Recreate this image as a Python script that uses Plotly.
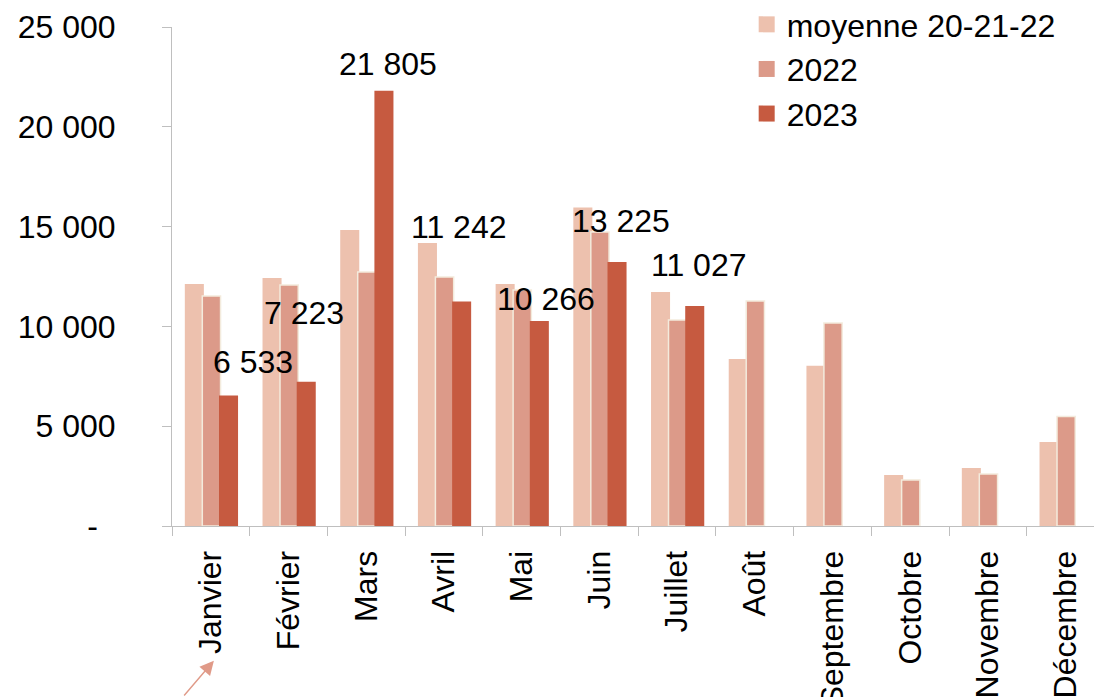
import plotly.graph_objects as go

months = ["Janvier", "Février", "Mars", "Avril", "Mai", "Juin", "Juillet",
          "Août", "Septembre", "Octobre", "Novembre", "Décembre"]
moyenne = [12120, 12430, 14830, 14180, 12120, 15960, 11720, 8370, 8030, 2560, 2910, 4210]
v2022 = [11520, 12070, 12720, 12470, 11820, 14730, 10320, 11270, 10170, 2310, 2610, 5480]
v2023 = [6533, 7223, 21805, 11242, 10266, 13225, 11027]
label_2023 = ["6 533", "7 223", "21 805", "11 242", "10 266", "13 225", "11 027"]

y_ticks = [0, 5000, 10000, 15000, 20000, 25000]
y_ticktext = ["-\u00a0\u00a0", "5 000", "10 000", "15 000", "20 000", "25 000"]

# label pixel offsets relative to top-center of each 2023 bar (layout tweak)
lab_dx = [25, -2, 4, -2, 7, 4, 4]
lab_dy = [34, 69, 27, 75, 22, 41, 41]

c_moy = "#EDC1AE"
c_22 = "#DC9A89"
c_23 = "#C65A40"
FONT = "Liberation Sans, Arial, sans-serif"

fig = go.Figure()
fig.add_trace(go.Bar(x=months, y=moyenne, name="moyenne 20-21-22", marker_color=c_moy,
                     marker_line_width=0, offset=-0.335, width=0.245, showlegend=False))
fig.add_trace(go.Bar(x=months, y=v2022, name="2022", marker_color=c_22,
                     marker_line=dict(color="#F3EBDD", width=1.5),
                     offset=-0.11, width=0.235, showlegend=False))
fig.add_trace(go.Bar(x=months[:len(v2023)], y=v2023, name="2023", marker_color=c_23,
                     marker_line_width=0, offset=0.105, width=0.245, showlegend=False))

for nm, col in [("moyenne 20-21-22", c_moy), ("2022", c_22), ("2023", c_23)]:
    fig.add_trace(go.Scatter(x=[None], y=[None], mode="markers", name=nm,
                             marker=dict(symbol="square", size=18, color=col)))

cat_px = 922 / 11.866
for i, (v, t) in enumerate(zip(v2023, label_2023)):
    fig.add_annotation(x=months[i], y=v, text=t, showarrow=False,
                       xshift=0.225 * cat_px + lab_dx[i], yshift=lab_dy[i],
                       yanchor="middle", xanchor="center",
                       font=dict(size=32, color="black", family=FONT))

fig.add_annotation(x=months[0], y=-0.27, xref="x", yref="paper", text="",
                   showarrow=True, ax=-31, ay=40, xshift=3, arrowhead=2, arrowsize=2,
                   arrowwidth=1.4, arrowcolor="#E09A88")

fig.update_layout(
    width=1094, height=697,
    margin=dict(l=172, r=0, t=27, b=171, autoexpand=False),
    paper_bgcolor="white", plot_bgcolor="white",
    barmode="overlay",
    font=dict(family=FONT, size=32, color="black"),
    legend=dict(x=0.6233, y=1.060, xanchor="left", yanchor="top",
                font=dict(size=32), bgcolor="rgba(0,0,0,0)",
                itemsizing="trace", tracegroupgap=0),
    xaxis=dict(type="category", range=[-0.5, 11.366], tickangle=-90,
               showline=True, linecolor="#BFBFBF", linewidth=1,
               ticks="outside", tickson="boundaries", ticklen=9,
               tickcolor="#BFBFBF", showgrid=False, automargin=False,
               ticklabelstandoff=11, tickfont=dict(size=32)),
    yaxis=dict(range=[0, 25000], tickvals=y_ticks, ticktext=y_ticktext,
               showline=True, linecolor="#BFBFBF", linewidth=1,
               ticks="outside", ticklen=9, tickcolor="#BFBFBF",
               showgrid=False, zeroline=False, ticklabelstandoff=40,
               automargin=False, tickfont=dict(size=32)),
)

fig.write_html("out.html", config={"displayModeBar": False},
               post_script="document.body.style.margin='0';")
